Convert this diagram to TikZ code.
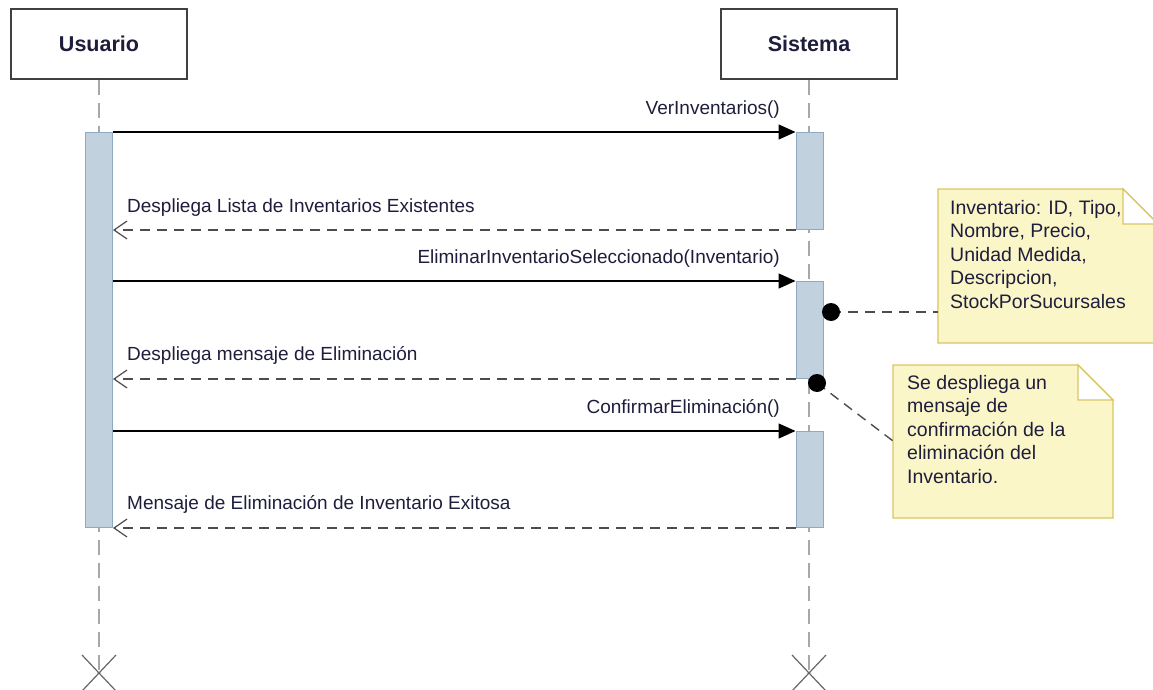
\documentclass[tikz,border=0pt]{standalone}
\usepackage{fontspec}
\setmainfont{Liberation Sans}
\usetikzlibrary{arrows.meta,calc}
\definecolor{txt}{HTML}{1E1E3C}
\definecolor{barfill}{HTML}{C2D1DE}
\definecolor{barline}{HTML}{8EA9C1}
\definecolor{notefill}{HTML}{FBF6C8}
\definecolor{noteline}{HTML}{D8C560}
\definecolor{lifegray}{HTML}{A8A8A8}
\tikzset{
  head/.style={draw=black!75,line width=1.2pt,fill=white,minimum width=176pt,minimum height=70pt,inner sep=0pt,
    font=\fontsize{21.5}{24}\selectfont\bfseries,text=txt},
  actbar/.style={draw=barline,fill=barfill,line width=1pt,minimum width=27pt,inner sep=0pt},
  life/.style={draw=lifegray,line width=1.2pt,dash pattern=on 15pt off 8pt},
  call/.style={draw=black,line width=1.5pt,-{Triangle[length=17pt,width=15pt]}},
  ret/.style={draw=black!70,line width=1.4pt,dash pattern=on 10pt off 7pt,-{Straight Barb[length=13pt,width=18pt,line width=1.2pt]}},
  msg/.style={inner sep=0pt,text=txt,font=\fontsize{19}{22}\selectfont},
  notebody/.style={fill=notefill,draw=noteline,line width=1.3pt,line join=miter},
  notetxt/.style={inner sep=0pt,text=txt,align=left,font=\fontsize{19.5}{23.5}\selectfont},
  anchorline/.style={draw=black!70,line width=1.4pt,dash pattern=on 10pt off 7pt},
  xmark/.style={draw=black!60,line width=1.2pt}
}
\begin{document}
\begin{tikzpicture}[x=1pt,y=-1pt]
\useasboundingbox (0,0) rectangle (1153,690);
% heads
\node[head] (usr) at (99,44) {Usuario};
\node[head] (sis) at (809,44) {Sistema};
% lifeline ends
\coordinate (uend) at (99,673);
\coordinate (send) at (809,673);
\draw[life] (usr.south) -- (uend);
\draw[life] (sis.south) -- (send);
\draw[xmark] ($(uend)+(-17,-18)$) -- ($(uend)+(17,18)$) ($(uend)+(17,-18)$) -- ($(uend)+(-17,18)$);
\draw[xmark] ($(send)+(-17,-18)$) -- ($(send)+(17,18)$) ($(send)+(17,-18)$) -- ($(send)+(-17,18)$);
% activation bars
\node[actbar,minimum height=395pt,anchor=north] (ua) at (99,132) {};
\node[actbar,minimum height=97pt,anchor=north] (sb1) at (809.5,132) {};
\node[actbar,minimum height=97pt,anchor=north] (sb2) at (809.5,281) {};
\node[actbar,minimum height=96pt,anchor=north] (sb3) at (809.5,431) {};
% messages
\draw[call] (ua.east |- sb1.north) -- (sb1.north west);
\node[msg,anchor=base east] (m1) at (780,114) {VerInventarios()};
\draw[ret] (sb1.south west) -- (ua.east |- sb1.south);
\node[msg,anchor=base west] (m2) at (127,212) {Despliega Lista de Inventarios Existentes};
\draw[call] (ua.east |- sb2.north) -- (sb2.north west);
\node[msg,anchor=base east] (m3) at (780,263) {EliminarInventarioSeleccionado(Inventario)};
\draw[ret] (sb2.south west) -- (ua.east |- sb2.south);
\node[msg,anchor=base west] (m4) at (127,360) {Despliega mensaje de Eliminación};
\draw[call] (ua.east |- sb3.north) -- (sb3.north west);
\node[msg,anchor=base east] (m5) at (780,413) {ConfirmarEliminación()};
\draw[ret] (sb3.south west) -- (ua.east |- sb3.south);
\node[msg,anchor=base west] (m6) at (127,509) {Mensaje de Eliminación de Inventario Exitosa};
% note 1
\path[notebody] (938,189) -- (1123,189) -- (1158,224) -- (1158,343) -- (938,343) -- cycle;
\fill[white] (1123,189) -- (1158,224) -- (1123,224) -- cycle;
\draw[noteline,line width=1.3pt] (1123,189) -- (1123,224) -- (1158,224) -- cycle;
\coordinate (n1) at (938,312);
\node[notetxt,anchor=north west] (t1) at (950,200) {Inventario: ID, Tipo,\\Nombre, Precio,\\Unidad Medida,\\Descripcion,\\StockPorSucursales};
% note 2
\path[notebody] (893,365) -- (1078,365) -- (1113,400) -- (1113,518) -- (893,518) -- cycle;
\fill[white] (1078,365) -- (1113,400) -- (1078,400) -- cycle;
\draw[noteline,line width=1.3pt] (1078,365) -- (1078,400) -- (1113,400) -- cycle;
\coordinate (n2) at (893,441);
\node[notetxt,anchor=north west] (t2) at (907,375) {Se despliega un\\mensaje de\\confirmación de la\\eliminación del\\Inventario.};
% note anchors
\coordinate (d1) at (831,312);
\coordinate (d2) at (817,383);
\draw[anchorline] (d1) -- (n1);
\draw[anchorline] (d2) -- (n2);
\fill[black] (d1) circle (9pt);
\fill[black] (d2) circle (9pt);
\end{tikzpicture}
\end{document}
